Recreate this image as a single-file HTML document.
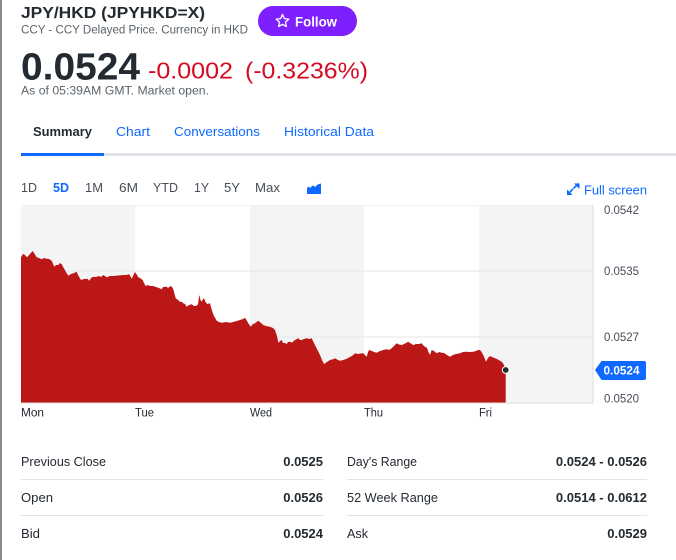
<!DOCTYPE html>
<html><head><meta charset="utf-8"><style>
html,body{margin:0;padding:0;background:#fff;}
body{width:676px;height:560px;overflow:hidden;}
svg{display:block;font-family:"Liberation Sans",Arial,sans-serif;}
</style></head><body>
<svg width="676" height="560" viewBox="0 0 676 560" xmlns="http://www.w3.org/2000/svg">
<rect x="0" y="0" width="676" height="560" fill="#fff"/>
<rect x="0" y="0" width="2" height="560" fill="#8a8a8a"/>

<!-- header -->
<text x="21" y="18" font-size="16" font-weight="bold" fill="#232a31" textLength="184" lengthAdjust="spacingAndGlyphs">JPY/HKD (JPYHKD=X)</text>
<text x="21" y="33.3" font-size="11.5" fill="#5b636a" textLength="227" lengthAdjust="spacingAndGlyphs">CCY - CCY Delayed Price. Currency in HKD</text>

<rect x="258" y="6" width="99" height="30" rx="15" fill="#7e1fff"/>
<path d="M282.5 14.5 L284.4 18.6 L288.8 19.1 L285.5 22.1 L286.4 26.5 L282.5 24.3 L278.6 26.5 L279.5 22.1 L276.2 19.1 L280.6 18.6 Z" fill="none" stroke="#fff" stroke-width="1.3" stroke-linejoin="round"/>
<text x="295" y="26.5" font-size="14" font-weight="bold" fill="#fff" textLength="42" lengthAdjust="spacingAndGlyphs">Follow</text>

<text x="21" y="79.5" font-size="38" font-weight="bold" fill="#232a31" textLength="119" lengthAdjust="spacingAndGlyphs">0.0524</text>
<text x="148" y="78.3" font-size="23.5" fill="#d60a22" textLength="85" lengthAdjust="spacingAndGlyphs">-0.0002</text>
<text x="245" y="78.3" font-size="23.5" fill="#d60a22" textLength="123" lengthAdjust="spacingAndGlyphs">(-0.3236%)</text>
<text x="21" y="94.3" font-size="11.5" fill="#5b636a" textLength="188" lengthAdjust="spacingAndGlyphs">As of 05:39AM GMT. Market open.</text>

<!-- nav -->
<text x="33" y="136" font-size="13" font-weight="bold" fill="#232a31" textLength="59" lengthAdjust="spacingAndGlyphs">Summary</text>
<text x="116" y="136" font-size="13" fill="#0f69ff" textLength="34" lengthAdjust="spacingAndGlyphs">Chart</text>
<text x="174" y="136" font-size="13" fill="#0f69ff" textLength="86" lengthAdjust="spacingAndGlyphs">Conversations</text>
<text x="284" y="136" font-size="13" fill="#0f69ff" textLength="90" lengthAdjust="spacingAndGlyphs">Historical Data</text>
<rect x="104" y="153" width="572" height="3" fill="#e0e4e9"/>
<rect x="21" y="153" width="83" height="3" fill="#0f69ff"/>

<!-- range -->
<g font-size="13" fill="#464e56">
<text x="21" y="192" textLength="16" lengthAdjust="spacingAndGlyphs">1D</text>
<text x="53" y="192" font-weight="bold" fill="#0f69ff" textLength="16" lengthAdjust="spacingAndGlyphs">5D</text>
<text x="85" y="192" textLength="18" lengthAdjust="spacingAndGlyphs">1M</text>
<text x="119" y="192" textLength="19" lengthAdjust="spacingAndGlyphs">6M</text>
<text x="153" y="192" textLength="25" lengthAdjust="spacingAndGlyphs">YTD</text>
<text x="194" y="192" textLength="15" lengthAdjust="spacingAndGlyphs">1Y</text>
<text x="224" y="192" textLength="16" lengthAdjust="spacingAndGlyphs">5Y</text>
<text x="255" y="192" textLength="25" lengthAdjust="spacingAndGlyphs">Max</text>
</g>
<path d="M307 194 L307 188 L308.5 186.5 L310 188 L312 186 L313.5 185.5 L315 187 L317 185 L319 184 L321 183.5 L321 194 Z" fill="#0f69ff"/>

<!-- full screen -->
<g stroke="#0f69ff" stroke-width="1.6" fill="none">
<line x1="568" y1="194" x2="573" y2="189"/>
<line x1="573.5" y1="188.5" x2="578.5" y2="183.5"/>
</g>
<path d="M567 189.5 L567 195 L572.5 195 Z" fill="#0f69ff"/>
<path d="M574 183.5 L579.5 183.5 L579.5 189 Z" fill="#0f69ff"/>
<text x="584" y="194.3" font-size="13" fill="#0f69ff" textLength="63" lengthAdjust="spacingAndGlyphs">Full screen</text>

<!-- plot -->
<rect x="21" y="205" width="114" height="198" fill="#f4f4f4"/>
<rect x="250" y="205" width="114" height="198" fill="#f4f4f4"/>
<rect x="479" y="205" width="114" height="198" fill="#f4f4f4"/>
<line x1="21" y1="205.5" x2="593" y2="205.5" stroke="#f0f0f0" stroke-width="1"/>
<line x1="21" y1="271" x2="593" y2="271" stroke="#e6e6e6" stroke-width="1"/>
<line x1="21" y1="337" x2="593" y2="337" stroke="#e6e6e6" stroke-width="1"/>

<polygon fill="#bc1717" points="21,257.3 23,254 25,255 27,257.3 30,254 32.7,251 34,253 36.7,257.3 39,258 41.7,259.3 44,258 46.7,258.7 49,259 51.7,260.7 54.3,266.7 56,265 58.3,265 60,263 61.7,264.3 64.3,269 66,272 68.3,275.7 71,274 74,273 76.7,271.7 78,275 81,280 84,279 87.3,278.7 89.3,280.7 91,278 93.3,276.7 96,277 99,276 101,277 103.3,275 106.7,277.3 110,276 113.3,276 118,275.5 123.3,275 126,275 129.3,274.3 131.7,278.7 133,276 135,272 137,275 138.3,277.3 140,278 142.7,280 144,283 145.7,286 148,285 150,286 153,286 156.7,287.3 159,288 161.7,289.3 163,287 166.7,286.7 168,288 170.7,286 172,287 173.3,289.3 175.7,298.3 178,300 180,301.7 182,302 183.3,303.3 185,304 186.7,306.7 189,305 191.7,304.3 194,306 196.7,305.7 198,304 199.3,295 200.5,300 201.7,301.7 203,299 204,298.3 205.5,302 207.3,304 210,303.3 211,307 212.7,312.7 214,316 216.7,320.7 219,322 221.7,322.7 226,322 230,322.7 235,321.5 240,320 243,319 245,317.7 247,321 248.3,323.3 250.7,326.7 253,324 255,323.3 256.5,322 258.3,320.7 261,323 263.3,325 266,326 270,326.7 273,328 275,330 277,336 278.3,342.7 280,341 281.7,340 283,343 285,343 286.7,344 288,342 290,341.7 292,342.5 295,340 297,339 298.3,338.3 300,340 301.7,340 304,339 306.7,338.3 309,339 311.7,338.3 313,341 315,345 317,349 318.5,352 320,355 322,360 324,364 327,362 330,360 333,359.3 335,358.3 338,360 340,360.7 343.3,360 346,359 350,357 353.3,355 355,353.3 358,354 361,353.5 363.3,353.3 365,355 366.7,356.7 368,352 369.3,350 372,351 374,352 376.7,352.7 380,351 383.3,350 386.7,349.3 389,350 391.7,348.3 394,346 396.7,343.3 399,344.5 401.7,345 404,344 406,343 408.3,341.7 410,343 413.3,345 416,344 419,344 421.7,343.3 423,345 425,346.7 427,348 428.3,351.7 430,355 431.7,350 434,351 436.7,353.3 439,352 441.7,352.7 444,353 447,355 450,356.7 453,355 456,354 460,353.3 463,352 466.7,351.7 470,352 473.3,351.7 476,351 478,350 480,350 481.5,352 483.3,355 486,361.7 488,358 490,356 492,357 495,358.3 497,359 500,360.7 502,362 504,365 505.7,370 505.7,403 21,403"/>

<line x1="593" y1="205" x2="593" y2="403.5" stroke="#dcdcdc" stroke-width="1"/>
<line x1="21" y1="403" x2="593" y2="403" stroke="#dcdcdc" stroke-width="1"/>
<circle cx="505.7" cy="370" r="3.4" fill="#232a31" stroke="#fff" stroke-width="1"/>

<!-- y axis -->
<g font-size="11.5" fill="#464e56">
<text x="604" y="214" textLength="35" lengthAdjust="spacingAndGlyphs">0.0542</text>
<text x="604" y="275" textLength="35" lengthAdjust="spacingAndGlyphs">0.0535</text>
<text x="604" y="341" textLength="35" lengthAdjust="spacingAndGlyphs">0.0527</text>
<text x="604" y="402.3" textLength="35" lengthAdjust="spacingAndGlyphs">0.0520</text>
</g>
<path d="M595 370 L601.5 361 L644 361 Q646 361 646 363 L646 378 Q646 380 644 380 L601.5 380 Z" fill="#0f69ff"/>
<text x="603.5" y="374.3" font-size="12" font-weight="bold" fill="#fff" textLength="36" lengthAdjust="spacingAndGlyphs">0.0524</text>

<!-- x axis -->
<g font-size="11.5" fill="#232a31">
<text x="21" y="416.5" textLength="23" lengthAdjust="spacingAndGlyphs">Mon</text>
<text x="135" y="416.5" textLength="19" lengthAdjust="spacingAndGlyphs">Tue</text>
<text x="250" y="416.5" textLength="22" lengthAdjust="spacingAndGlyphs">Wed</text>
<text x="364" y="416.5" textLength="19" lengthAdjust="spacingAndGlyphs">Thu</text>
<text x="479" y="416.5" textLength="13" lengthAdjust="spacingAndGlyphs">Fri</text>
</g>

<!-- table -->
<g stroke="#e0e4e9" stroke-width="1">
<line x1="21" y1="479.5" x2="323" y2="479.5"/>
<line x1="21" y1="515.5" x2="323" y2="515.5"/>
<line x1="347" y1="479.5" x2="647" y2="479.5"/>
<line x1="347" y1="515.5" x2="647" y2="515.5"/>
</g>
<g font-size="13" fill="#232a31">
<text x="21" y="466" textLength="85" lengthAdjust="spacingAndGlyphs">Previous Close</text>
<text x="21" y="502" textLength="32" lengthAdjust="spacingAndGlyphs">Open</text>
<text x="21" y="538" textLength="19" lengthAdjust="spacingAndGlyphs">Bid</text>
<text x="347" y="466" textLength="70" lengthAdjust="spacingAndGlyphs">Day's Range</text>
<text x="347" y="502" textLength="91" lengthAdjust="spacingAndGlyphs">52 Week Range</text>
<text x="347" y="538" textLength="21" lengthAdjust="spacingAndGlyphs">Ask</text>
<g font-weight="bold" text-anchor="end">
<text x="323" y="466">0.0525</text>
<text x="323" y="502">0.0526</text>
<text x="323" y="538">0.0524</text>
<text x="647" y="466">0.0524 - 0.0526</text>
<text x="647" y="502">0.0514 - 0.0612</text>
<text x="647" y="538">0.0529</text>
</g>
</g>
</svg>
</body></html>
